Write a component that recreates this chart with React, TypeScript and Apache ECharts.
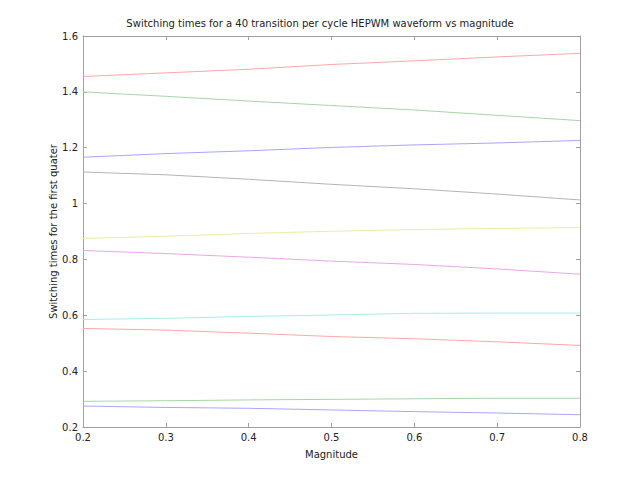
import React, { useEffect, useRef } from "react";
import * as echarts from "echarts";

const magnitude = [0.2, 0.3, 0.4, 0.5, 0.6, 0.7, 0.8];
const s1 = [1.455, 1.468, 1.481, 1.498, 1.511, 1.525, 1.538];
const s2 = [1.4, 1.384, 1.367, 1.351, 1.335, 1.316, 1.297];
const s3 = [1.166, 1.179, 1.189, 1.201, 1.21, 1.217, 1.226];
const s4 = [1.113, 1.103, 1.087, 1.069, 1.053, 1.034, 1.013];
const s5 = [0.875, 0.883, 0.893, 0.901, 0.907, 0.911, 0.914];
const s6 = [0.832, 0.821, 0.808, 0.794, 0.782, 0.766, 0.747];
const s7 = [0.585, 0.589, 0.596, 0.601, 0.607, 0.608, 0.608];
const s8 = [0.553, 0.547, 0.536, 0.524, 0.516, 0.505, 0.492];
const s9 = [0.292, 0.294, 0.297, 0.299, 0.301, 0.303, 0.303];
const s10 = [0.275, 0.27, 0.267, 0.261, 0.255, 0.25, 0.244];
const seriesValues = [s1, s2, s3, s4, s5, s6, s7, s8, s9, s10];
const colors = [
  "#ffa6a6",
  "#a6d6a6",
  "#a6a6ff",
  "#b4b4b4",
  "#ebeba6",
  "#eba6eb",
  "#a6ebeb",
  "#ffa6a6",
  "#a6d6a6",
  "#a6a6ff",
];
const xTicks = [0.2, 0.3, 0.4, 0.5, 0.6, 0.7, 0.8];
const yTicks = [0.2, 0.4, 0.6, 0.8, 1, 1.2, 1.4, 1.6];

const FONT = "DejaVu Sans";

export default function App() {
  const ref = useRef<HTMLDivElement>(null);
  useEffect(() => {
    document.body.style.margin = "0";
    if (!ref.current) return;
    const chart = echarts.init(ref.current, null, { renderer: "svg" });
    const axisLine = { show: true, lineStyle: { color: "#a0a0a0", width: 1 } };
    const axisTick = { show: true, inside: true, length: 4, lineStyle: { color: "#a0a0a0" } };
    const lbl = { color: "#222", fontSize: 10, fontFamily: FONT };
    chart.setOption({
      animation: false,
      backgroundColor: "#ffffff",
      title: {
        text: "Switching times for a 40 transition per cycle HEPWM waveform vs magnitude",
        left: "center",
        top: 13,
        textStyle: { fontSize: 10, fontWeight: "normal", color: "#222", fontFamily: FONT },
      },
      grid: { left: 83, right: 60, top: 36, bottom: 53 },
      xAxis: [
        {
          type: "value",
          min: 0.2,
          max: 0.8,
          interval: 0.1,
          name: "Magnitude",
          nameLocation: "middle",
          nameGap: 22,
          nameMoveOverlap: false,
          nameTextStyle: lbl,
          axisLine,
          axisTick,
          splitLine: { show: false },
          axisLabel: { ...lbl, margin: 5, formatter: (v: number) => String(Math.round(v * 10) / 10) },
        },
        {
          type: "value",
          position: "top",
          min: 0.2,
          max: 0.8,
          interval: 0.1,
          axisLine,
          axisTick,
          splitLine: { show: false },
          axisLabel: { show: false },
        },
      ],
      yAxis: [
        {
          type: "value",
          min: 0.2,
          max: 1.6,
          interval: 0.2,
          name: "Switching times for the first quater",
          nameLocation: "middle",
          nameGap: 25,
          nameMoveOverlap: false,
          nameTextStyle: lbl,
          axisLine,
          axisTick,
          splitLine: { show: false },
          axisLabel: { ...lbl, margin: 5, formatter: (v: number) => String(Math.round(v * 10) / 10) },
        },
        {
          type: "value",
          position: "right",
          min: 0.2,
          max: 1.6,
          interval: 0.2,
          axisLine,
          axisTick,
          splitLine: { show: false },
          axisLabel: { show: false },
        },
      ],
      series: seriesValues.map((vals, i) => ({
        type: "line",
        data: magnitude.map((m, j) => [m, vals[j]]),
        showSymbol: false,
        symbol: "none",
        lineStyle: { color: colors[i], width: 1 },
        itemStyle: { color: colors[i] },
      })),
    });
    return () => chart.dispose();
  }, []);
  return <div ref={ref} style={{ width: 640, height: 480 }} />;
}
